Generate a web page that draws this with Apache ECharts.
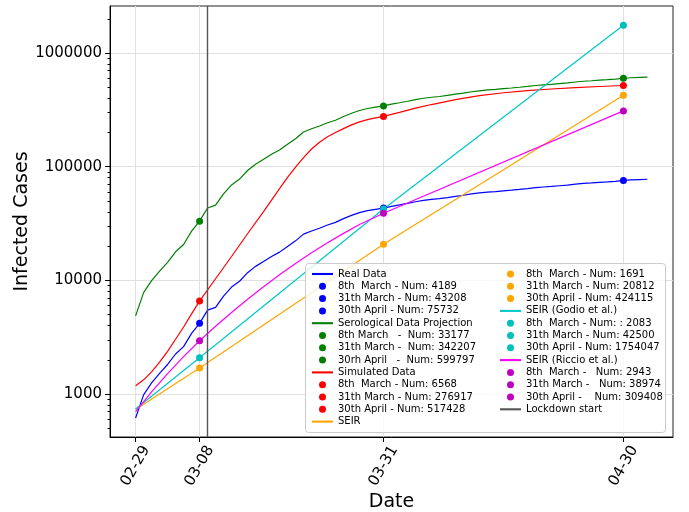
<!DOCTYPE html>
<html><head><meta charset="utf-8">
<script src="https://cdn.jsdelivr.net/npm/echarts@6/dist/echarts.min.js"></script>
<style>html,body{margin:0;padding:0;background:#fff}#c{width:689px;height:512px}</style>
</head><body><div id="c"></div>
<script>
// x values are days counted from 02-29 (day 0)
const xTickDays = [0, 8, 31, 61];
const xTickLabels = ['02-29', '03-08', '03-31', '04-30'];
const yTickValues = [1000, 10000, 100000, 1000000];
const yMinorTicks = [500, 600, 700, 800, 900, 2000, 3000, 4000, 5000, 6000, 7000, 8000, 9000,
  20000, 30000, 40000, 50000, 60000, 70000, 80000, 90000,
  200000, 300000, 400000, 500000, 600000, 700000, 800000, 900000, 2000000];
const lockdownDay = 9;

// Real data, daily from day 0 (02-29) to day 64 (05-03)
const realData = [615, 984, 1254, 1520, 1820, 2251, 2612, 3420, 4189, 5469,
  5791, 7280, 8725, 9820, 11685, 13272, 14649, 16220, 17713, 19884,
  22264, 25515, 27206, 28761, 30703, 32346, 34889, 37298, 39415, 41007,
  42161, 43208, 44773, 46065, 47520, 49118, 50455, 51534, 52325, 53414,
  54802, 56048, 57592, 58729, 59722, 60314, 61326, 62153, 63094, 64135,
  65381, 66236, 66971, 67931, 68824, 70165, 71256, 71969, 72889, 73479,
  74348, 75732, 76469, 77002, 77528];
// Serological data projection, daily from day 0 to day 64
const serologicalData = [4871, 7793, 9932, 12038, 14414, 17828, 20687, 27086, 33177, 43314,
  45865, 57658, 69102, 77774, 92545, 105114, 116020, 128462, 140287, 157481,
  176331, 202079, 215472, 227787, 243168, 256180, 276321, 295400, 312167, 324775,
  333915, 342207, 354602, 364835, 376358, 389015, 399604, 408149, 414414, 423039,
  434032, 443900, 456129, 465134, 472998, 477687, 485702, 492252, 499704, 507949,
  517818, 524589, 530410, 538014, 545086, 555707, 564348, 569994, 577281, 581954,
  588836, 599797, 605634, 609856, 614022];
// Simulated data
const simulatedDays = [0, 1, 2, 3, 4, 5, 6, 7, 8, 10, 12, 14, 16, 18, 19, 20, 21, 22, 23, 24, 25, 26, 27, 28, 29, 30, 31,
  33, 35, 37, 40, 43, 46, 49, 52, 55, 58, 61];
const simulatedValues = [1183, 1334, 1567, 1905, 2371, 3034, 3890, 5070, 6568, 10330, 16220, 25700, 40300, 64100, 80400,
  98900, 120000, 143000, 164000, 183000, 200000, 216000, 233000, 248000, 259000, 269000, 276917,
  300600, 327000, 352000, 389000, 422000, 447000, 466000, 482000, 495000, 507000, 517428];
// SEIR
const seirDays = [0, 8, 31, 61];
const seirValues = [730, 1691, 20812, 424115];
// SEIR (Godio et al.)
const godioDays = [0, 8, 31, 61];
const godioValues = [740, 2083, 42500, 1754047];
// SEIR (Riccio et al.)
const riccioDays = [0, 2, 4, 6, 8, 10, 12, 14, 16, 18, 20, 22, 24, 26, 28, 31, 61];
const riccioValues = [700, 1044, 1514, 2133, 2943, 3947, 5220, 6823, 8800, 11200, 14090, 17500, 21430, 25900, 30970, 38974, 309408];

const markerDays = [8, 31, 61];
const realMarks = [4189, 43208, 75732];
const seroMarks = [33177, 342207, 599797];
const simMarks = [6568, 276917, 517428];
const seirMarks = [1691, 20812, 424115];
const godioMarks = [2083, 42500, 1754047];
const riccioMarks = [2943, 38974, 309408];

const realLabels = ['8th  March - Num: 4189', '31th March - Num: 43208', '30th April - Num: 75732'];
const seroLabels = ['8th March   -  Num: 33177', '31th March -  Num: 342207', '30rh April   -  Num: 599797'];
const simLabels = ['8th  March - Num: 6568', '31th March - Num: 276917', '30th April - Num: 517428'];
const seirLabels = ['8th  March - Num: 1691', '31th March - Num: 20812', '30th April - Num: 424115'];
const godioLabels = ['8th  March - Num: : 2083', '31th March - Num: 42500', '30th April - Num: 1754047'];
const riccioLabels = ['8th  March -   Num: 2943', '31th March -   Num: 38974', '30th April -    Num: 309408'];

const groups = [
  {name: 'Real Data', line: '#0000ff', dot: '#0000ff', days: realData.map((v, i) => i), vals: realData, marks: realMarks, labels: realLabels},
  {name: 'Serological Data Projection', line: '#008000', dot: '#008000', days: serologicalData.map((v, i) => i), vals: serologicalData, marks: seroMarks, labels: seroLabels},
  {name: 'Simulated Data', line: '#ff0000', dot: '#ff0000', days: simulatedDays, vals: simulatedValues, marks: simMarks, labels: simLabels},
  {name: 'SEIR', line: '#ffa500', dot: '#ffa500', days: seirDays, vals: seirValues, marks: seirMarks, labels: seirLabels},
  {name: 'SEIR (Godio et al.)', line: '#00c8c8', dot: '#00bfbf', days: godioDays, vals: godioValues, marks: godioMarks, labels: godioLabels},
  {name: 'SEIR (Riccio et al.)', line: '#ff00ff', dot: '#bf00bf', days: riccioDays, vals: riccioValues, marks: riccioMarks, labels: riccioLabels}
];

const lineIcon = 'path://M0,0L1,0L1,0.1L0,0.1Z';
const series = [];
const legendNames = [];
groups.forEach(g => {
  series.push({
    type: 'line', name: g.name, showSymbol: false, symbol: 'none',
    data: g.days.map((d, i) => [d, g.vals[i]]),
    lineStyle: {color: g.line, width: 1.2}, itemStyle: {color: g.line},
    z: 2, animation: false
  });
  legendNames.push({name: g.name, icon: lineIcon});
  g.marks.forEach((m, k) => {
    series.push({
      type: 'scatter', name: g.labels[k], symbol: 'circle', symbolSize: 7,
      data: [[markerDays[k], m]], itemStyle: {color: g.dot, opacity: 1}, z: 3, animation: false
    });
    legendNames.push({name: g.labels[k], icon: 'circle'});
  });
});
series.push({
  type: 'line', name: 'Lockdown start', data: [], symbol: 'none',
  lineStyle: {color: '#555555', width: 1.2}, itemStyle: {color: '#555555'},
  markLine: {silent: true, symbol: 'none', label: {show: false},
    lineStyle: {color: '#555555', width: 1.4, type: 'solid'},
    data: [{xAxis: lockdownDay}]},
  animation: false
});
legendNames.push({name: 'Lockdown start', icon: lineIcon});

const legendCommon = {
  orient: 'vertical', itemWidth: 21, itemHeight: 7, itemGap: 0.3,
  textStyle: {fontFamily: 'DejaVu Sans', fontSize: 10, color: '#000', lineHeight: 12},
  padding: 0, selectedMode: false
};

const chart = echarts.init(document.getElementById('c'), null, {renderer: 'canvas'});
chart.setOption({
  animation: false,
  backgroundColor: '#fff',
  textStyle: {fontFamily: 'DejaVu Sans'},
  grid: {left: 110, right: 16, top: 6, bottom: 75, show: true, borderColor: '#222', borderWidth: 1,
    containLabel: false, outerBoundsMode: 'none'},
  xAxis: {
    type: 'value', min: -3.2, max: 67.2,
    axisLine: {show: true, onZero: false, lineStyle: {color: '#000'}},
    axisTick: {show: true, length: 5, customValues: xTickDays, lineStyle: {color: '#000'}},
    axisLabel: {customValues: xTickDays, rotate: 60, align: 'center', verticalAlign: 'middle', margin: 29,
      fontSize: 15, color: '#000', fontFamily: 'DejaVu Sans',
      formatter: v => xTickLabels[xTickDays.indexOf(Math.round(v))] || ''},
    splitLine: {show: true, lineStyle: {color: '#e0e0e0', width: 1}},
    name: 'Date', nameLocation: 'middle', nameGap: 56, nameMoveOverlap: false,
    nameTextStyle: {fontSize: 19, color: '#000', fontFamily: 'DejaVu Sans'}
  },
  yAxis: [{
    type: 'log', logBase: 10, min: 419, max: 2590000,
    axisLine: {show: true, onZero: false, lineStyle: {color: '#000'}},
    axisTick: {show: true, length: 5, customValues: yTickValues, lineStyle: {color: '#000'}},
    axisLabel: {customValues: yTickValues, fontSize: 15, color: '#000', margin: 8, fontFamily: 'DejaVu Sans',
      formatter: v => String(Math.round(v))},
    splitLine: {show: true, lineStyle: {color: '#e0e0e0', width: 1}},
    name: 'Infected Cases', nameLocation: 'middle', nameGap: 78, nameMoveOverlap: false,
    nameTextStyle: {fontSize: 19, color: '#000', fontFamily: 'DejaVu Sans'}
  }, {
    type: 'log', logBase: 10, min: 419, max: 2590000, position: 'left', offset: 0,
    axisLine: {show: false, onZero: false},
    axisTick: {show: true, length: 2.5, customValues: yMinorTicks, lineStyle: {color: '#000'}},
    axisLabel: {show: false, customValues: yMinorTicks},
    splitLine: {show: false}
  }],
  graphic: [{
    type: 'rect', z: 3, left: 305, top: 263,
    shape: {width: 360, height: 169, r: 3},
    style: {fill: 'rgba(255,255,255,0.8)', stroke: '#cccccc', lineWidth: 1}
  }],
  legend: [
    Object.assign({}, legendCommon, {left: 312, top: 268, data: legendNames.slice(0, 13)}),
    Object.assign({}, legendCommon, {left: 500, top: 268, data: legendNames.slice(13)})
  ],
  series: series
});
</script></body></html>
